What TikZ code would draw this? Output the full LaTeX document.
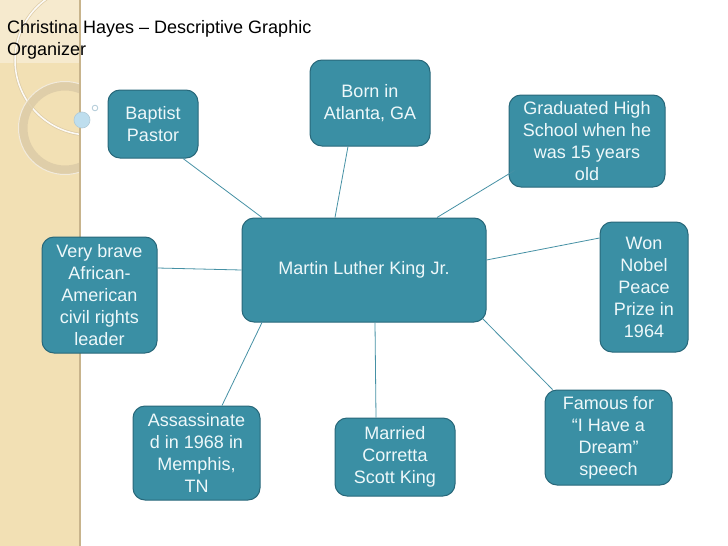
\documentclass[tikz,border=0pt]{standalone}
\usepackage{fontspec}
\setmainfont{Liberation Sans}
\definecolor{boxfill}{RGB}{58,143,164}
\definecolor{boxdraw}{RGB}{40,104,122}
\definecolor{boxtext}{RGB}{238,248,250}
\definecolor{linkc}{RGB}{70,145,165}
\definecolor{stripe}{RGB}{242,224,180}
\definecolor{stripetop}{RGB}{246,234,206}
\definecolor{stripeedge}{RGB}{200,180,140}
\definecolor{ringc}{RGB}{222,205,168}
\definecolor{dotc}{RGB}{190,222,238}
\begin{document}
\begin{tikzpicture}[x=1pt,y=-1pt,
  infobox/.style={draw=boxdraw,line width=1pt,fill=boxfill,rounded corners=12pt,
    text=boxtext,align=center,inner sep=0pt,
    font=\fontsize{18pt}{22pt}\selectfont},
  link/.style={draw=linkc,line width=0.8pt}]
\useasboundingbox (0,0) rectangle (728,546);
\fill[white] (0,0) rectangle (728,546);
% left decorative stripe
\fill[stripe] (0,0) rectangle (80,546);
\fill[stripetop] (0,0) rectangle (80,63);
\begin{scope}
  \clip (0,0) rectangle (80,546);
  \draw[ringc,line width=3pt] (90,60) circle[radius=75];
  \draw[white!90!ringc,line width=1.5pt] (90,60) circle[radius=75];
  \draw[ringc,line width=9pt,opacity=0.9] (65,128) circle[radius=42];
  \draw[white!60!ringc,line width=1pt] (65,128) circle[radius=46.5];
\end{scope}
\draw[stripeedge,line width=1.5pt] (80,0) -- (80,546);
\fill[dotc] (82,120) circle[radius=8];
\draw[dotc!80!gray,line width=0.6pt] (82,120) circle[radius=8];
\draw[dotc!80!gray,line width=0.8pt] (95,108) circle[radius=2.8];
% title
\node[anchor=north west,align=left,inner sep=0pt,
  font=\fontsize{18pt}{22pt}\selectfont] (title) at (7,20)
  {Christina Hayes – Descriptive Graphic\\Organizer};
% boxes
\node[infobox,minimum width=90pt,minimum height=68pt] (bp) at (153,124) {Baptist\\Pastor};
\node[infobox,minimum width=120pt,minimum height=86pt] (born) at (370,103) {Born in\\Atlanta, GA};
\node[infobox,minimum width=156pt,minimum height=92pt] (grad) at (587,141) {Graduated High\\School when he\\was 15 years\\old};
\node[infobox,minimum width=115pt,minimum height=116pt] (brave) at (99.5,295) {Very brave\\African-\\American\\civil rights\\leader};
\node[infobox,minimum width=244pt,minimum height=104pt] (mlk) at (364,270) {Martin Luther King Jr.};
\node[infobox,minimum width=88pt,minimum height=130pt] (nobel) at (644,287) {Won\\Nobel\\Peace\\Prize in\\1964};
\node[infobox,minimum width=127pt,minimum height=94pt] (ass) at (196.5,453) {Assassinate\\d in 1968 in\\Memphis,\\TN};
\node[infobox,minimum width=120pt,minimum height=78pt] (mar) at (395,457) {Married\\Corretta\\Scott King};
\node[infobox,minimum width=127pt,minimum height=95pt] (fam) at (608.5,437.5) {Famous for\\“I Have a\\Dream”\\speech};
% connectors
\draw[link] ([shift={(30,0)}]bp.south) -- ([shift={(-102,0)}]mlk.north);
\draw[link] ([shift={(-22,0)}]born.south) -- ([shift={(-29,0)}]mlk.north);
\draw[link] ([shift={(6,-17)}]grad.south west) -- ([shift={(73,0)}]mlk.north);
\draw[link] ([shift={(0,-27)}]brave.east) -- (mlk.west);
\draw[link] ([shift={(0,-49)}]nobel.west) -- ([shift={(0,-10)}]mlk.east);
\draw[link] ([shift={(8,0)}]fam.north west) -- ([shift={(-4,-4)}]mlk.south east);
\draw[link] ([shift={(-19,0)}]mar.north) -- ([shift={(11,0)}]mlk.south);
\draw[link] ([shift={(25.5,0)}]ass.north) -- ([shift={(-102,0)}]mlk.south);
\end{tikzpicture}
\end{document}
